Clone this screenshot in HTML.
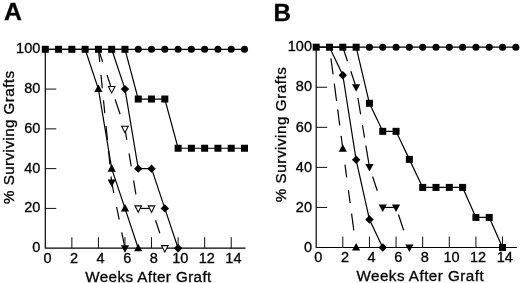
<!DOCTYPE html>
<html><head><meta charset="utf-8"><title>Graft survival</title>
<style>
html,body{margin:0;padding:0;background:#fff;}
text{stroke:#000;stroke-width:0.3px;}
svg{display:block;font-family:"Liberation Sans",sans-serif;fill:#000;will-change:transform;}
</style></head>
<body>
<svg width="520" height="283" viewBox="0 0 520 283">
<rect x="0" y="0" width="520" height="283" fill="#fff"/>
<path d="M45.30 49.30 L45.30 248.20 L245.50 248.20" fill="none" stroke="#000" stroke-width="1.2"/>
<path d="M71.86 248.20 L71.86 237.20" stroke="#000" stroke-width="0.95"/>
<path d="M98.42 248.20 L98.42 237.20" stroke="#000" stroke-width="0.95"/>
<path d="M124.98 248.20 L124.98 237.20" stroke="#000" stroke-width="0.95"/>
<path d="M151.54 248.20 L151.54 237.20" stroke="#000" stroke-width="0.95"/>
<path d="M178.10 248.20 L178.10 237.20" stroke="#000" stroke-width="0.95"/>
<path d="M204.66 248.20 L204.66 237.20" stroke="#000" stroke-width="0.95"/>
<path d="M231.22 248.20 L231.22 237.20" stroke="#000" stroke-width="0.95"/>
<path d="M45.30 208.42 L56.30 208.42" stroke="#000" stroke-width="0.95"/>
<path d="M45.30 168.64 L56.30 168.64" stroke="#000" stroke-width="0.95"/>
<path d="M45.30 128.86 L56.30 128.86" stroke="#000" stroke-width="0.95"/>
<path d="M45.30 89.08 L56.30 89.08" stroke="#000" stroke-width="0.95"/>
<text x="47.50" y="263.20" font-size="14.5" text-anchor="middle">0</text>
<text x="74.06" y="263.20" font-size="14.5" text-anchor="middle">2</text>
<text x="100.62" y="263.20" font-size="14.5" text-anchor="middle">4</text>
<text x="127.18" y="263.20" font-size="14.5" text-anchor="middle">6</text>
<text x="153.74" y="263.20" font-size="14.5" text-anchor="middle">8</text>
<text x="180.30" y="263.20" font-size="14.5" text-anchor="middle">10</text>
<text x="206.86" y="263.20" font-size="14.5" text-anchor="middle">12</text>
<text x="233.42" y="263.20" font-size="14.5" text-anchor="middle">14</text>
<text x="40.30" y="252.20" font-size="14.5" text-anchor="end">0</text>
<text x="40.30" y="212.42" font-size="14.5" text-anchor="end">20</text>
<text x="40.30" y="172.64" font-size="14.5" text-anchor="end">40</text>
<text x="40.30" y="132.86" font-size="14.5" text-anchor="end">60</text>
<text x="40.30" y="93.08" font-size="14.5" text-anchor="end">80</text>
<text x="40.30" y="53.30" font-size="14.5" text-anchor="end">100</text>
<text x="148.50" y="281.80" font-size="15.2" letter-spacing="0.4" text-anchor="middle">Weeks After Graft</text>
<text transform="translate(13.90 137.20) rotate(-90)" font-size="15.2" letter-spacing="0.43" text-anchor="middle">% Surviving Grafts</text>
<path d="M45.30 49.30 L58.58 49.30 L71.86 49.30 L85.14 49.30 L98.42 49.30 L111.70 49.30 L124.98 49.30 L138.26 49.30 L151.54 49.30 L164.82 49.30 L178.10 49.30 L191.38 49.30 L204.66 49.30 L217.94 49.30 L231.22 49.30 L244.50 49.30" fill="none" stroke="#000" stroke-width="1.2"/>
<circle cx="138.26" cy="49.30" r="3.55" fill="#000"/>
<circle cx="151.54" cy="49.30" r="3.55" fill="#000"/>
<circle cx="164.82" cy="49.30" r="3.55" fill="#000"/>
<circle cx="178.10" cy="49.30" r="3.55" fill="#000"/>
<circle cx="191.38" cy="49.30" r="3.55" fill="#000"/>
<circle cx="204.66" cy="49.30" r="3.55" fill="#000"/>
<circle cx="217.94" cy="49.30" r="3.55" fill="#000"/>
<circle cx="231.22" cy="49.30" r="3.55" fill="#000"/>
<circle cx="244.50" cy="49.30" r="3.55" fill="#000"/>
<path d="M85.14 49.30 L98.42 89.08 L111.70 168.64 L124.98 208.42 L138.26 248.20" fill="none" stroke="#000" stroke-width="1.2"/>
<polygon points="98.42,84.52 94.32,92.12 102.52,92.12" fill="#000"/>
<polygon points="111.70,164.08 107.60,171.68 115.80,171.68" fill="#000"/>
<polygon points="124.98,203.86 120.88,211.46 129.08,211.46" fill="#000"/>
<polygon points="138.26,243.64 134.16,251.24 142.36,251.24" fill="#000"/>
<path d="M98.42 49.30 L99.69 62.00" stroke="#000" stroke-width="1.2"/>
<path d="M100.98 75.00 L102.31 88.30" stroke="#000" stroke-width="1.2"/>
<path d="M103.50 100.30 L104.80 113.30" stroke="#000" stroke-width="1.2"/>
<path d="M106.06 126.00 L107.46 140.00" stroke="#000" stroke-width="1.2"/>
<path d="M108.55 151.00 L109.90 164.50" stroke="#000" stroke-width="1.2"/>
<path d="M111.10 176.50 L111.70 182.56" stroke="#000" stroke-width="1.2"/>
<path d="M112.19 185.00 L113.81 193.00" stroke="#000" stroke-width="1.2"/>
<path d="M116.64 207.00 L119.21 219.70" stroke="#000" stroke-width="1.2"/>
<path d="M121.76 232.30 L124.98 248.20" stroke="#000" stroke-width="1.2"/>
<polygon points="111.70,187.12 107.60,179.52 115.80,179.52" fill="#000"/>
<polygon points="124.98,252.76 120.88,245.16 129.08,245.16" fill="#000"/>
<path d="M98.42 49.30 L102.59 61.80" stroke="#000" stroke-width="1.2"/>
<path d="M107.00 75.00 L111.70 89.08" stroke="#000" stroke-width="1.2"/>
<path d="M115.11 99.30 L120.12 114.30" stroke="#000" stroke-width="1.2"/>
<path d="M124.98 128.86 L126.81 139.80" stroke="#000" stroke-width="1.2"/>
<path d="M129.06 153.30 L131.23 166.30" stroke="#000" stroke-width="1.2"/>
<path d="M133.57 180.30 L135.90 194.30" stroke="#000" stroke-width="1.2"/>
<path d="M138.26 208.42 L151.54 208.42" stroke="#000" stroke-width="1.2"/>
<path d="M155.51 220.30 L159.85 233.30" stroke="#000" stroke-width="1.2"/>
<polygon points="111.70,92.92 108.40,86.52 115.00,86.52" fill="#fff" stroke="#000" stroke-width="1.05"/>
<polygon points="124.98,132.70 121.68,126.30 128.28,126.30" fill="#fff" stroke="#000" stroke-width="1.05"/>
<polygon points="138.26,212.26 134.96,205.86 141.56,205.86" fill="#fff" stroke="#000" stroke-width="1.05"/>
<polygon points="151.54,212.26 148.24,205.86 154.84,205.86" fill="#fff" stroke="#000" stroke-width="1.05"/>
<polygon points="164.82,252.04 161.52,245.64 168.12,245.64" fill="#fff" stroke="#000" stroke-width="1.05"/>
<path d="M111.70 49.30 L124.98 89.08 L138.26 168.64 L151.54 168.64 L164.82 208.42 L178.10 248.20" fill="none" stroke="#000" stroke-width="1.2"/>
<polygon points="124.98,84.88 129.18,89.08 124.98,93.28 120.78,89.08" fill="#000"/>
<polygon points="138.26,164.44 142.46,168.64 138.26,172.84 134.06,168.64" fill="#000"/>
<polygon points="151.54,164.44 155.74,168.64 151.54,172.84 147.34,168.64" fill="#000"/>
<polygon points="164.82,204.22 169.02,208.42 164.82,212.62 160.62,208.42" fill="#000"/>
<polygon points="178.10,244.00 182.30,248.20 178.10,252.40 173.90,248.20" fill="#000"/>
<path d="M45.30 49.30 L58.58 49.30 L71.86 49.30 L85.14 49.30 L98.42 49.30 L111.70 49.30 L124.98 49.30 L138.26 99.03 L151.54 99.03 L164.82 99.03 L178.10 148.25 L191.38 148.25 L204.66 148.25 L217.94 148.25 L231.22 148.25 L244.50 148.25" fill="none" stroke="#000" stroke-width="1.2"/>
<rect x="41.80" y="45.80" width="7.0" height="7.0" fill="#000"/>
<rect x="55.08" y="45.80" width="7.0" height="7.0" fill="#000"/>
<rect x="68.36" y="45.80" width="7.0" height="7.0" fill="#000"/>
<rect x="81.64" y="45.80" width="7.0" height="7.0" fill="#000"/>
<rect x="94.92" y="45.80" width="7.0" height="7.0" fill="#000"/>
<rect x="108.20" y="45.80" width="7.0" height="7.0" fill="#000"/>
<rect x="121.48" y="45.80" width="7.0" height="7.0" fill="#000"/>
<rect x="134.76" y="95.53" width="7.0" height="7.0" fill="#000"/>
<rect x="148.04" y="95.53" width="7.0" height="7.0" fill="#000"/>
<rect x="161.32" y="95.53" width="7.0" height="7.0" fill="#000"/>
<rect x="174.60" y="144.75" width="7.0" height="7.0" fill="#000"/>
<rect x="187.88" y="144.75" width="7.0" height="7.0" fill="#000"/>
<rect x="201.16" y="144.75" width="7.0" height="7.0" fill="#000"/>
<rect x="214.44" y="144.75" width="7.0" height="7.0" fill="#000"/>
<rect x="227.72" y="144.75" width="7.0" height="7.0" fill="#000"/>
<rect x="241.00" y="144.75" width="7.0" height="7.0" fill="#000"/>
<text x="4.0" y="20.3" font-size="24.8" font-weight="bold" stroke="#000" stroke-width="0.35">A</text>
<path d="M316.20 47.20 L316.20 247.50 L516.85 247.50" fill="none" stroke="#000" stroke-width="1.2"/>
<path d="M342.82 247.50 L342.82 236.50" stroke="#000" stroke-width="0.95"/>
<path d="M369.44 247.50 L369.44 236.50" stroke="#000" stroke-width="0.95"/>
<path d="M396.06 247.50 L396.06 236.50" stroke="#000" stroke-width="0.95"/>
<path d="M422.68 247.50 L422.68 236.50" stroke="#000" stroke-width="0.95"/>
<path d="M449.30 247.50 L449.30 236.50" stroke="#000" stroke-width="0.95"/>
<path d="M475.92 247.50 L475.92 236.50" stroke="#000" stroke-width="0.95"/>
<path d="M502.54 247.50 L502.54 236.50" stroke="#000" stroke-width="0.95"/>
<path d="M316.20 207.44 L327.20 207.44" stroke="#000" stroke-width="0.95"/>
<path d="M316.20 167.38 L327.20 167.38" stroke="#000" stroke-width="0.95"/>
<path d="M316.20 127.32 L327.20 127.32" stroke="#000" stroke-width="0.95"/>
<path d="M316.20 87.26 L327.20 87.26" stroke="#000" stroke-width="0.95"/>
<text x="318.40" y="261.90" font-size="14.5" text-anchor="middle">0</text>
<text x="345.02" y="261.90" font-size="14.5" text-anchor="middle">2</text>
<text x="371.64" y="261.90" font-size="14.5" text-anchor="middle">4</text>
<text x="398.26" y="261.90" font-size="14.5" text-anchor="middle">6</text>
<text x="424.88" y="261.90" font-size="14.5" text-anchor="middle">8</text>
<text x="451.50" y="261.90" font-size="14.5" text-anchor="middle">10</text>
<text x="478.12" y="261.90" font-size="14.5" text-anchor="middle">12</text>
<text x="504.74" y="261.90" font-size="14.5" text-anchor="middle">14</text>
<text x="312.00" y="251.70" font-size="14.5" text-anchor="end">0</text>
<text x="312.00" y="211.64" font-size="14.5" text-anchor="end">20</text>
<text x="312.00" y="171.58" font-size="14.5" text-anchor="end">40</text>
<text x="312.00" y="131.52" font-size="14.5" text-anchor="end">60</text>
<text x="312.00" y="91.46" font-size="14.5" text-anchor="end">80</text>
<text x="312.00" y="51.40" font-size="14.5" text-anchor="end">100</text>
<text x="420.30" y="281.10" font-size="15.2" letter-spacing="0.48" text-anchor="middle">Weeks After Graft</text>
<text transform="translate(285.60 134.40) rotate(-90)" font-size="15.2" letter-spacing="0.55" text-anchor="middle">% Surviving Grafts</text>
<path d="M316.20 47.20 L329.51 47.20 L342.82 47.20 L356.13 47.20 L369.44 47.20 L382.75 47.20 L396.06 47.20 L409.37 47.20 L422.68 47.20 L435.99 47.20 L449.30 47.20 L462.61 47.20 L475.92 47.20 L489.23 47.20 L502.54 47.20 L515.85 47.20" fill="none" stroke="#000" stroke-width="1.2"/>
<circle cx="369.44" cy="47.20" r="3.55" fill="#000"/>
<circle cx="382.75" cy="47.20" r="3.55" fill="#000"/>
<circle cx="396.06" cy="47.20" r="3.55" fill="#000"/>
<circle cx="409.37" cy="47.20" r="3.55" fill="#000"/>
<circle cx="422.68" cy="47.20" r="3.55" fill="#000"/>
<circle cx="435.99" cy="47.20" r="3.55" fill="#000"/>
<circle cx="449.30" cy="47.20" r="3.55" fill="#000"/>
<circle cx="462.61" cy="47.20" r="3.55" fill="#000"/>
<circle cx="475.92" cy="47.20" r="3.55" fill="#000"/>
<circle cx="489.23" cy="47.20" r="3.55" fill="#000"/>
<circle cx="502.54" cy="47.20" r="3.55" fill="#000"/>
<circle cx="515.85" cy="47.20" r="3.55" fill="#000"/>
<path d="M330.96 58.30 L333.06 74.30" stroke="#000" stroke-width="1.2"/>
<path d="M334.29 83.70 L336.55 100.90" stroke="#000" stroke-width="1.2"/>
<path d="M337.65 109.30 L339.75 125.30" stroke="#000" stroke-width="1.2"/>
<path d="M341.12 135.80 L342.82 148.75" stroke="#000" stroke-width="1.2"/>
<path d="M344.97 164.70 L346.67 177.30" stroke="#000" stroke-width="1.2"/>
<path d="M348.38 190.00 L350.15 203.10" stroke="#000" stroke-width="1.2"/>
<path d="M351.57 213.70 L353.81 230.30" stroke="#000" stroke-width="1.2"/>
<polygon points="342.82,144.19 338.72,151.79 346.92,151.79" fill="#000"/>
<polygon points="356.13,242.94 352.03,250.54 360.23,250.54" fill="#000"/>
<path d="M329.51 47.20 L342.82 75.24 L356.13 159.77 L369.44 219.46 L382.75 247.50" fill="none" stroke="#000" stroke-width="1.2"/>
<polygon points="342.82,71.04 347.02,75.24 342.82,79.44 338.62,75.24" fill="#000"/>
<polygon points="356.13,155.57 360.33,159.77 356.13,163.97 351.93,159.77" fill="#000"/>
<polygon points="369.44,215.26 373.64,219.46 369.44,223.66 365.24,219.46" fill="#000"/>
<polygon points="382.75,243.30 386.95,247.50 382.75,251.70 378.55,247.50" fill="#000"/>
<path d="M342.82 47.20 L347.50 61.30" stroke="#000" stroke-width="1.2"/>
<path d="M350.83 71.30 L356.13 87.26" stroke="#000" stroke-width="1.2"/>
<path d="M357.92 98.00 L360.64 114.30" stroke="#000" stroke-width="1.2"/>
<path d="M362.43 125.00 L364.55 137.70" stroke="#000" stroke-width="1.2"/>
<path d="M365.87 145.60 L369.44 166.98" stroke="#000" stroke-width="1.2"/>
<path d="M372.57 176.50 L377.28 190.80" stroke="#000" stroke-width="1.2"/>
<path d="M382.75 207.44 L396.06 207.44" stroke="#000" stroke-width="1.2"/>
<path d="M398.41 214.50 L403.66 230.30" stroke="#000" stroke-width="1.2"/>
<polygon points="356.13,91.82 352.03,84.22 360.23,84.22" fill="#000"/>
<polygon points="369.44,171.54 365.34,163.94 373.54,163.94" fill="#000"/>
<polygon points="382.75,212.00 378.65,204.40 386.85,204.40" fill="#000"/>
<polygon points="396.06,212.00 391.96,204.40 400.16,204.40" fill="#000"/>
<polygon points="409.37,252.06 405.27,244.46 413.47,244.46" fill="#000"/>
<path d="M316.20 47.20 L329.51 47.20 L342.82 47.20 L356.13 47.20 L369.44 103.28 L382.75 131.33 L396.06 131.33 L409.37 159.37 L422.68 187.41 L435.99 187.41 L449.30 187.41 L462.61 187.41 L475.92 217.45 L489.23 217.45 L502.54 247.50" fill="none" stroke="#000" stroke-width="1.2"/>
<rect x="312.70" y="43.70" width="7.0" height="7.0" fill="#000"/>
<rect x="326.01" y="43.70" width="7.0" height="7.0" fill="#000"/>
<rect x="339.32" y="43.70" width="7.0" height="7.0" fill="#000"/>
<rect x="352.63" y="43.70" width="7.0" height="7.0" fill="#000"/>
<rect x="365.94" y="99.78" width="7.0" height="7.0" fill="#000"/>
<rect x="379.25" y="127.83" width="7.0" height="7.0" fill="#000"/>
<rect x="392.56" y="127.83" width="7.0" height="7.0" fill="#000"/>
<rect x="405.87" y="155.87" width="7.0" height="7.0" fill="#000"/>
<rect x="419.18" y="183.91" width="7.0" height="7.0" fill="#000"/>
<rect x="432.49" y="183.91" width="7.0" height="7.0" fill="#000"/>
<rect x="445.80" y="183.91" width="7.0" height="7.0" fill="#000"/>
<rect x="459.11" y="183.91" width="7.0" height="7.0" fill="#000"/>
<rect x="472.42" y="213.95" width="7.0" height="7.0" fill="#000"/>
<rect x="485.73" y="213.95" width="7.0" height="7.0" fill="#000"/>
<rect x="499.04" y="244.00" width="7.0" height="7.0" fill="#000"/>
<text x="273.4" y="20.8" font-size="24.2" font-weight="bold" stroke="#000" stroke-width="0.35">B</text>
</svg>
</body></html>
